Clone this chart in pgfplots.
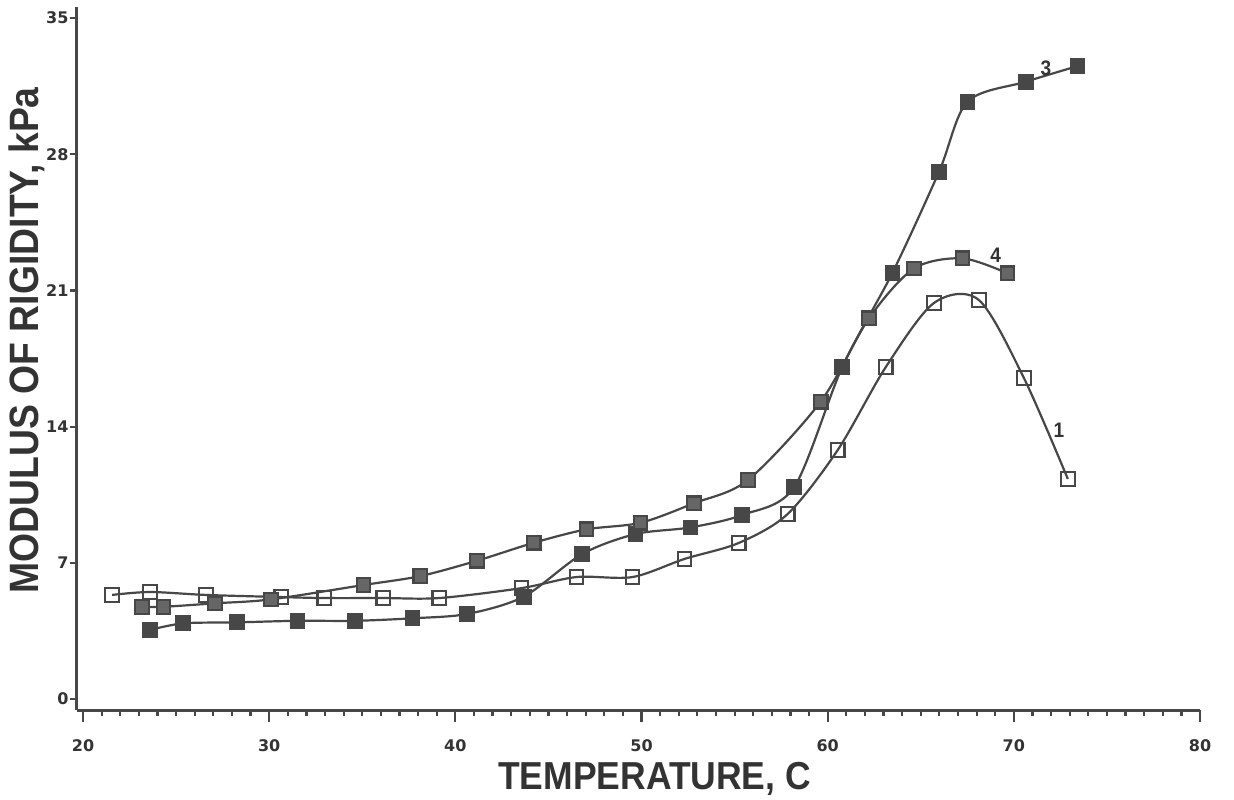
\documentclass[border=0pt]{standalone}
\usepackage{fontspec}
\setmainfont{Liberation Sans}
\newfontfamily\labelfont{Liberation Sans}[FakeStretch=0.91]
\newfontfamily\tickfont{DejaVu Sans}
\usepackage{pgfplots}
\pgfplotsset{compat=1.18}
\definecolor{ink}{HTML}{474747}
\definecolor{txt}{HTML}{333333}
\begin{document}
\begin{tikzpicture}
\path[use as bounding box, fill=white] (0,0) rectangle (617pt,399.5pt);
\begin{axis}[
  at={(38.25pt,44.5pt)}, anchor=south west,
  scale only axis, width=561.75pt, height=351.5pt,
  xmin=19.65, xmax=80, ymin=-0.565, ymax=35.57,
  axis lines=left, axis line style={-, line width=1.5pt, ink},
  xtick={20,30,...,80}, minor x tick num=9,
  ytick={0,7,...,35},
  extra x ticks={20,30,...,80}, extra x tick labels={},
  extra x tick style={major tick length=6pt},
  tick align=outside,
  major tick length=3.5pt, minor tick length=3pt,
  every tick/.style={ink, line width=1.1pt},
  /pgf/number format/assume math mode=true,
  ticklabel style={font=\tickfont\bfseries\fontsize{8}{9}\selectfont, txt},
  xticklabel style={yshift=-8pt},
  yticklabel style={xshift=3pt},
  xlabel={TEMPERATURE, C},
  xlabel style={at={(axis description cs:0.5145,-0.1124)}, anchor=base, font=\labelfont\bfseries\fontsize{19.5}{20}\selectfont, txt},
  ylabel={MODULUS OF RIGIDITY, kPa},
  ylabel style={at={(axis description cs:-0.0335,0.526)}, anchor=base, font=\labelfont\bfseries\fontsize{20.5}{22}\selectfont, txt},
  clip=false,
]
% curve 1 (open squares)
\addplot[ink, line width=1.1pt, smooth, mark=square, mark size=3.4pt, mark options={fill=white, line width=1.1pt}] coordinates {
(21.56,5.35) (23.60,5.50) (26.61,5.35) (30.65,5.24) (32.96,5.19) (36.13,5.19) (39.14,5.19) (43.55,5.70) (46.51,6.27) (49.52,6.27) (52.31,7.20) (55.22,8.02) (57.85,9.51) (60.54,12.80) (63.12,17.06) (65.70,20.35) (68.12,20.51) (70.54,16.50) (72.90,11.31)
};
% curve 3 (filled squares)
\addplot[ink, line width=1.1pt, smooth, mark=square*, mark size=3.4pt, mark options={fill=ink, line width=1.1pt}] coordinates {
(23.60,3.55) (25.39,3.89) (28.26,3.94) (31.52,4.02) (34.62,4.02) (37.70,4.15) (40.63,4.37) (43.67,5.26) (46.81,7.45) (49.68,8.48) (52.63,8.82) (55.41,9.46) (58.19,10.88) (60.79,17.08) (63.48,21.91) (65.98,27.10) (67.51,30.70) (70.65,31.73) (73.42,32.53)
};
% curve 4 (dotted squares)
\addplot[ink, line width=1.1pt, smooth, mark=square*, mark size=3.4pt, mark options={fill=black!60, draw=ink, line width=1.1pt}] coordinates {
(23.16,4.74) (24.32,4.74) (27.10,4.92) (30.09,5.12) (35.07,5.86) (38.12,6.32) (41.17,7.11) (44.21,8.03) (47.04,8.72) (49.95,9.06) (52.81,10.06) (55.72,11.26) (59.62,15.28) (62.22,19.57) (64.64,22.13) (67.24,22.65) (69.66,21.88)
};
\node[font=\labelfont\bfseries\fontsize{10.5}{12}\selectfont, txt] at (axis cs:71.72,32.43) {3};
\node[font=\labelfont\bfseries\fontsize{10.5}{12}\selectfont, txt] at (axis cs:69.03,22.82) {4};
\node[font=\labelfont\bfseries\fontsize{10.5}{12}\selectfont, txt] at (axis cs:72.42,13.83) {1};
\end{axis}
\end{tikzpicture}
\end{document}
